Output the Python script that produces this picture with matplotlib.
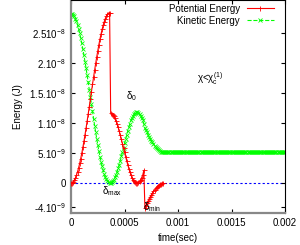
import numpy as np
import matplotlib
matplotlib.use("Agg")
from matplotlib import pyplot as plt

# energies in units of 1e-9 J, sampled every 1e-5 s
t_step = 1e-5
potential = [
    0.0, 0.05, 0.21, 0.48, 0.84, 1.31, 1.87, 2.52, 3.26, 4.09,
    4.99, 5.96, 6.98, 8.07, 9.20, 10.36, 11.56, 12.77, 14.00, 15.23,
    16.46, 17.66, 18.85, 20.00, 21.10, 22.14, 23.14, 24.07, 24.91, 25.69,
    26.37, 26.98, 27.48, 27.89, 28.19, 28.40, 28.49, 11.69, 11.60, 11.41,
    11.14, 10.79, 10.36, 9.85, 9.29, 8.67, 8.00, 7.30, 6.58, 5.85,
    5.12, 4.40, 3.70, 3.03, 2.41, 1.85, 1.34, 0.91, 0.56, 0.29,
    0.10, 0.01, 0.01, 0.10, 0.29, 0.56, 0.91, 1.34, 2.10, -4.10,
    -3.80, -3.40, -3.00, -2.60, -2.30, -2.00, -1.70, -1.40, -1.15, -0.90,
    -0.70, -0.50, -0.35, -0.22, -0.12, -0.05, 0.0,
]
kinetic = [
    28.30, 28.25, 28.09, 27.83, 27.47, 27.00, 26.45, 25.80, 25.06, 24.24,
    23.35, 22.39, 21.37, 20.29, 19.17, 18.01, 16.82, 15.62, 14.39, 13.17,
    11.96, 10.76, 9.59, 8.45, 7.35, 6.31, 5.32, 4.40, 3.56, 2.79,
    2.11, 1.51, 1.01, 0.61, 0.31, 0.10, 0.01, 0.01, 0.11, 0.29,
    0.56, 0.92, 1.35, 1.86, 2.43, 3.06, 3.73, 4.43, 5.16, 5.90,
    6.64, 7.37, 8.07, 8.74, 9.37, 9.94, 10.45, 10.88, 11.24, 11.51,
    11.70, 11.79, 11.79, 11.70, 11.51, 11.24, 10.88, 10.45, 9.94, 9.20,
    8.90, 8.50, 8.10, 7.70, 7.40, 7.10, 6.80, 6.50, 6.25, 6.00,
    5.80, 5.60, 5.45, 5.32, 5.22, 5.15, 5.10,
    5.10, 5.10, 5.10, 5.10, 5.10, 5.10, 5.10, 5.10, 5.10, 5.10,
    5.10, 5.10, 5.10, 5.10, 5.10, 5.10, 5.10, 5.10, 5.10, 5.10,
    5.10, 5.10, 5.10, 5.10, 5.10, 5.10, 5.10, 5.10, 5.10, 5.10,
    5.10, 5.10, 5.10, 5.10, 5.10, 5.10, 5.10, 5.10, 5.10, 5.10,
    5.10, 5.10, 5.10, 5.10, 5.10, 5.10, 5.10, 5.10, 5.10, 5.10,
    5.10, 5.10, 5.10, 5.10, 5.10, 5.10, 5.10, 5.10, 5.10, 5.10,
    5.10, 5.10, 5.10, 5.10, 5.10, 5.10, 5.10, 5.10, 5.10, 5.10,
    5.10, 5.10, 5.10, 5.10, 5.10, 5.10, 5.10, 5.10, 5.10, 5.10,
    5.10, 5.10, 5.10, 5.10, 5.10, 5.10, 5.10, 5.10, 5.10, 5.10,
    5.10, 5.10, 5.10, 5.10, 5.10, 5.10, 5.10, 5.10, 5.10, 5.10,
    5.10, 5.10, 5.10, 5.10, 5.10, 5.10, 5.10, 5.10, 5.10, 5.10,
    5.10, 5.10, 5.10, 5.10,
]

xticks = [0, 0.0005, 0.001, 0.0015, 0.002]
xticklabels = ["0", "0.0005", "0.001", "0.0015", "0.002"]
yticks = [-4e-9, 0, 5e-9, 1e-8, 1.5e-8, 2e-8, 2.5e-8]
yticklabels = [r"-4.10$^{-9}$", "0", r"5.10$^{-9}$", r"1.10$^{-8}$",
               r"1.5.10$^{-8}$", r"2.10$^{-8}$", r"2.510$^{-8}$"]

plt.rcParams['font.family'] = ['Liberation Sans', 'DejaVu Sans']
plt.rcParams['mathtext.fontset'] = 'custom'
plt.rcParams['mathtext.rm'] = 'Liberation Sans'
plt.rcParams['mathtext.it'] = 'Liberation Sans'
plt.rcParams['font.size'] = 7

pe = np.array(potential) * 1e-9
ke = np.array(kinetic) * 1e-9
t_pe = np.arange(len(pe)) * t_step
t_ke = np.arange(len(ke)) * t_step

fig = plt.figure(figsize=(3.0, 2.45), dpi=100)
ax = fig.add_axes([0.237, 0.131, 0.713, 0.867])

ax.axhline(0, color='blue', lw=0.8, ls=(0, (2, 2)), zorder=1)
ax.plot(t_pe, pe, color='red', lw=0.8, marker='+', ms=3.6, mew=0.6,
        label='Potential Energy', zorder=3)
ax.plot(t_ke, ke, color='#00ff00', lw=0.8, ls='--', marker='x', ms=3.0, mew=0.6,
        label='Kinetic Energy', zorder=2)

ax.set_xlim(0, 0.002)
ax.set_ylim(-5e-9, 3.05e-8)
ax.set_xticks(xticks)
ax.set_xticklabels(xticklabels)
ax.set_yticks(yticks)
ax.set_yticklabels(yticklabels)
ax.tick_params(direction='in', length=3, width=0.8, top=True, right=True,
               labelsize=7, pad=4)

for side in ['left', 'bottom']:
    ax.spines[side].set_color('#888888')
    ax.spines[side].set_linewidth(1.6)
for side in ['top', 'right']:
    ax.spines[side].set_color('black')
    ax.spines[side].set_linewidth(0.8)

ax.set_xlabel('time(sec)', fontsize=7, labelpad=3)
ax.set_ylabel('Energy (J)', fontsize=7, labelpad=4)

ax.text(0.0013, 1.75e-8, r'$\chi$<$\chi_c^{(1)}$', fontsize=7, ha='center', va='center')
ax.text(0.00056, 1.45e-8, r'$\delta_0$', fontsize=7, ha='center', va='center')
ax.text(0.00038, -1.4e-9, r'$\delta_{max}$', fontsize=7, ha='center', va='center')
ax.text(0.00067, -4.0e-9, r'$\delta_{min}$', fontsize=7, ha='left', va='center')

leg = ax.legend(loc='upper right', bbox_to_anchor=(0.949, 0.985), frameon=False,
                markerfirst=False, fontsize=7, handlelength=2.8, handletextpad=0.7,
                labelspacing=0.2, borderpad=0, borderaxespad=0)
for col in leg._legend_handle_box.get_children():
    col.align = 'right'

fig.savefig('out.png', dpi=100)
